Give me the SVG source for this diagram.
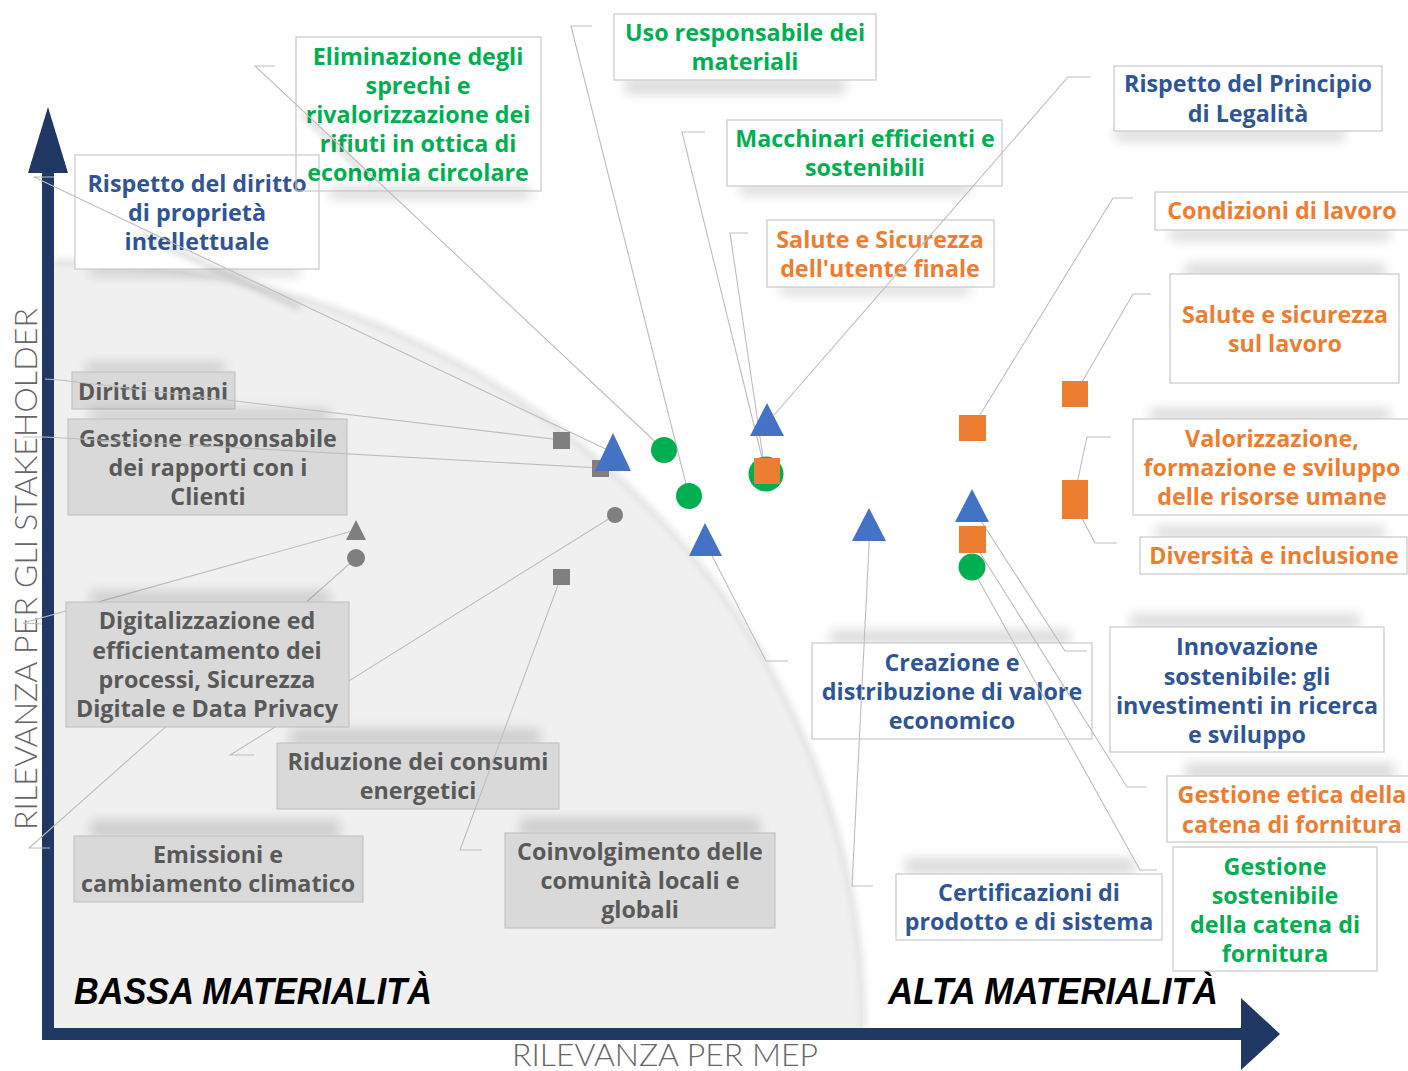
<svg xmlns="http://www.w3.org/2000/svg" width="1408" height="1071" viewBox="0 0 1408 1071">
<defs>
<filter id="blur" x="-30%" y="-150%" width="160%" height="400%"><feGaussianBlur stdDeviation="6"/></filter>
<filter id="blur2" x="-10%" y="-10%" width="120%" height="120%"><feGaussianBlur stdDeviation="3"/></filter>
<style>
.bx{fill:#ffffff;stroke:#c9c9c9;stroke-width:1.2}
.bn{fill:none;stroke:#c9c9c9;stroke-width:1.2}
.gx{fill:#d9d9d9;stroke:#c4c4c4;stroke-width:1.2}
.sh{fill:#000;opacity:0.14;filter:url(#blur)}
.t{font-family:"Open Sans",Lato,"Liberation Sans",sans-serif;font-weight:700;font-size:23.3px;text-anchor:middle}
.g{fill:#00B050}.b{fill:#2F5597}.o{fill:#ED7D31}.k{fill:#595959}
.ln{fill:none;stroke:#bdbdbd;stroke-width:1.1}
.lsh{fill:none;stroke:#000;stroke-opacity:0.16;stroke-width:5;filter:url(#blur2)}
.ax{fill:#203864}
.big{font-family:"Liberation Sans",Arial,sans-serif;font-weight:700;font-style:italic;font-size:37px;fill:#000}
.lab{font-family:Lato,"Open Sans","Liberation Sans",sans-serif;font-weight:300;font-size:31px;fill:#666666}
.mb{fill:#4472C4}.mg{fill:#00B050}.mo{fill:#ED7D31}.mk{fill:#7f7f7f}
</style>
</defs>
<rect width="1408" height="1071" fill="#ffffff"/>
<g id="low-area">
<path d="M54,262 A809,763 0 0 1 863,1028 L54,1028 Z" fill="#f0f0f0"/>
<path d="M54,262 A809,763 0 0 1 863,1028" fill="none" stroke="#e2e2e2" stroke-width="6" filter="url(#blur2)"/>
</g>
<g id="axes">
<rect class="ax" x="42" y="170" width="12" height="870"/>
<polygon class="ax" points="48,107 68,173 28,173"/>
<rect class="ax" x="42" y="1028" width="1201" height="12"/>
<polygon class="ax" points="1241,998 1280,1034 1241,1070"/>
<text class="lab" transform="translate(37,830) rotate(-90)" textLength="522" lengthAdjust="spacingAndGlyphs">RILEVANZA PER GLI STAKEHOLDER</text>
<text class="lab" x="512" y="1066" textLength="306" lengthAdjust="spacingAndGlyphs">RILEVANZA PER MEP</text>
<text class="big" x="74" y="1004" textLength="358" lengthAdjust="spacingAndGlyphs">BASSA MATERIALITÀ</text>
<text class="big" x="888" y="1004" textLength="330" lengthAdjust="spacingAndGlyphs">ALTA MATERIALITÀ</text>
</g>
<g id="n-diritto">
<rect class="sh" x="90" y="266" width="210" height="10"/>
<rect class="bx" x="75" y="155" width="244" height="114"/>
<text class="t b"><tspan x="197" y="192">Rispetto del diritto</tspan><tspan x="197" y="221">di proprietà</tspan><tspan x="197" y="250">intellettuale</tspan></text>
</g>
<g id="n-eliminazione">
<rect class="sh" x="330" y="187" width="200" height="12"/>
<rect class="bn" x="296" y="37" width="245" height="154"/>
<text class="t g"><tspan x="418" y="65">Eliminazione degli</tspan><tspan x="418" y="94">sprechi e</tspan><tspan x="418" y="123">rivalorizzazione dei</tspan><tspan x="418" y="152">rifiuti in ottica di</tspan><tspan x="418" y="181">economia circolare</tspan></text>
</g>
<g id="n-uso">
<rect class="sh" x="625" y="78" width="220" height="16"/>
<rect class="bx" x="614" y="14" width="262" height="66"/>
<text class="t g"><tspan x="745" y="41">Uso responsabile dei</tspan><tspan x="745" y="70">materiali</tspan></text>
</g>
<g id="n-macchinari">
<rect class="sh" x="740" y="183" width="230" height="12"/>
<rect class="bx" x="727" y="120" width="275" height="66"/>
<text class="t g"><tspan x="865" y="147">Macchinari efficienti e</tspan><tspan x="865" y="176">sostenibili</tspan></text>
</g>
<g id="n-sostenibile">
<rect class="bx" x="1173" y="847" width="204" height="124"/>
<text class="t g"><tspan x="1275" y="875">Gestione</tspan><tspan x="1275" y="904">sostenibile</tspan><tspan x="1275" y="933">della catena di</tspan><tspan x="1275" y="962">fornitura</tspan></text>
</g>
<g id="n-legalita">
<rect class="sh" x="1115" y="129" width="230" height="12"/>
<rect class="bx" x="1114" y="66" width="268" height="65"/>
<text class="t b"><tspan x="1248" y="92">Rispetto del Principio</tspan><tspan x="1248" y="122">di Legalità</tspan></text>
</g>
<g id="n-creazione">
<rect class="sh" x="830" y="630" width="240" height="14"/>
<rect class="bx" x="812" y="643" width="280" height="96"/>
<text class="t b"><tspan x="952" y="671">Creazione e</tspan><tspan x="952" y="700">distribuzione di valore</tspan><tspan x="952" y="729">economico</tspan></text>
</g>
<g id="n-innovazione">
<rect class="sh" x="1130" y="614" width="230" height="14"/>
<rect class="bx" x="1110" y="627" width="274" height="125"/>
<text class="t b"><tspan x="1247" y="655">Innovazione</tspan><tspan x="1247" y="685">sostenibile: gli</tspan><tspan x="1247" y="714">investimenti in ricerca</tspan><tspan x="1247" y="743">e sviluppo</tspan></text>
</g>
<g id="n-certificazioni">
<rect class="sh" x="905" y="858" width="230" height="16"/>
<rect class="bx" x="896" y="874" width="266" height="66"/>
<text class="t b"><tspan x="1029" y="901">Certificazioni di</tspan><tspan x="1029" y="930">prodotto e di sistema</tspan></text>
</g>
<g id="n-salute-utente">
<rect class="sh" x="780" y="285" width="190" height="10"/>
<rect class="bx" x="767" y="220" width="227" height="67"/>
<text class="t o"><tspan x="880" y="248">Salute e Sicurezza</tspan><tspan x="880" y="277">dell'utente finale</tspan></text>
</g>
<g id="n-condizioni">
<rect class="sh" x="1170" y="229" width="220" height="12"/>
<rect class="bx" x="1155" y="192" width="260" height="38"/>
<text class="t o"><tspan x="1282" y="219">Condizioni di lavoro</tspan></text>
</g>
<g id="n-salute-lavoro">
<rect class="sh" x="1185" y="263" width="200" height="14"/>
<rect class="bx" x="1170" y="274" width="229" height="109"/>
<text class="t o"><tspan x="1285" y="323">Salute e sicurezza</tspan><tspan x="1285" y="352">sul lavoro</tspan></text>
</g>
<g id="n-valorizzazione">
<rect class="sh" x="1150" y="408" width="240" height="14"/>
<rect class="bx" x="1133" y="419" width="280" height="96"/>
<text class="t o"><tspan x="1272" y="447">Valorizzazione,</tspan><tspan x="1272" y="476">formazione e sviluppo</tspan><tspan x="1272" y="505">delle risorse umane</tspan></text>
</g>
<g id="n-diversita">
<rect class="sh" x="1155" y="526" width="230" height="12"/>
<rect class="bx" x="1140" y="537" width="267" height="37"/>
<text class="t o"><tspan x="1274" y="564">Diversità e inclusione</tspan></text>
</g>
<g id="n-etica">
<rect class="sh" x="1185" y="763" width="210" height="16"/>
<rect class="bx" x="1167" y="776" width="250" height="66"/>
<text class="t o"><tspan x="1292" y="803">Gestione etica della</tspan><tspan x="1292" y="833">catena di fornitura</tspan></text>
</g>
<g id="n-diritti-umani">
<rect class="sh" x="85" y="362" width="140" height="12"/>
<rect class="gx" x="72" y="372" width="163" height="37"/>
<text class="t k"><tspan x="153" y="400">Diritti umani</tspan></text>
</g>
<g id="n-clienti">
<rect class="sh" x="90" y="409" width="240" height="12"/>
<rect class="gx" x="68" y="419" width="279" height="96"/>
<text class="t k"><tspan x="208" y="447">Gestione responsabile</tspan><tspan x="208" y="476">dei rapporti con i</tspan><tspan x="208" y="505">Clienti</tspan></text>
</g>
<g id="n-riduzione">
<rect class="sh" x="290" y="729" width="250" height="16"/>
<rect class="gx" x="277" y="743" width="282" height="66"/>
<text class="t k"><tspan x="418" y="770">Riduzione dei consumi</tspan><tspan x="418" y="799">energetici</tspan></text>
</g>
<g id="n-emissioni">
<rect class="sh" x="90" y="820" width="250" height="18"/>
<rect class="gx" x="74" y="836" width="289" height="66"/>
<text class="t k"><tspan x="218" y="863">Emissioni e</tspan><tspan x="218" y="892">cambiamento climatico</tspan></text>
</g>
<g id="n-coinvolgimento">
<rect class="sh" x="520" y="818" width="240" height="18"/>
<rect class="gx" x="505" y="833" width="270" height="95"/>
<text class="t k"><tspan x="640" y="860">Coinvolgimento delle</tspan><tspan x="640" y="889">comunità locali e</tspan><tspan x="640" y="918">globali</tspan></text>
</g>
<g id="connectors">
<line class="lsh" x1="140" y1="234" x2="300" y2="308"/>
<line class="lsh" x1="302" y1="114" x2="372" y2="180"/>
<polyline class="ln" points="275,66 255,66 664,450"/>
<polyline class="ln" points="54,177 34,177 612,452"/>
<polyline class="ln" points="592,26 571,26 689,496"/>
<polyline class="ln" points="705,132 682,132 766,474"/>
<polyline class="ln" points="748,233 730,233 765,471"/>
<polyline class="ln" points="1091,77 1068,77 768,422"/>
<polyline class="ln" points="1133,198 1113,198 972,428"/>
<polyline class="ln" points="1151,294 1133,294 1075,394"/>
<polyline class="ln" points="1111,437 1087,437 1075,493"/>
<polyline class="ln" points="1117,543 1095,543 1075,505"/>
<polyline class="ln" points="972,507 1065,651 1087,651"/>
<polyline class="ln" points="972,540 1127,787 1147,787"/>
<polyline class="ln" points="972,568 1140,870 1157,870"/>
<polyline class="ln" points="870,526 852,886 873,886"/>
<polyline class="ln" points="705,542 766,661 788,661"/>
<polyline class="ln" points="45,379 60,380 561,440"/>
<polyline class="ln" points="23,437 45,437 600,468"/>
<polyline class="ln" points="356,530 23,623 42,624"/>
<polyline class="ln" points="356,558 29,848 50,848"/>
<polyline class="ln" points="615,515 230,755 254,755"/>
<polyline class="ln" points="561,577 460,850 482,850"/>
</g>
<g id="n-digitalizzazione">
<rect class="sh" x="90" y="591" width="240" height="14"/>
<rect class="gx" x="66" y="602" width="283" height="125"/>
<text class="t k"><tspan x="207" y="629">Digitalizzazione ed</tspan><tspan x="207" y="659">efficientamento dei</tspan><tspan x="207" y="688">processi, Sicurezza</tspan><tspan x="207" y="717">Digitale e Data Privacy</tspan></text>
</g>
<g id="markers">
<rect class="mk" x="553" y="432" width="17" height="17"/>
<rect class="mk" x="592" y="460" width="17" height="17"/>
<rect class="mk" x="553" y="569" width="17" height="16"/>
<circle class="mk" cx="615" cy="515" r="8"/>
<polygon class="mk" points="356,520 366,540 346,540"/>
<circle class="mk" cx="356" cy="558" r="9"/>
<polygon class="mb" points="613,433 631,471 595,471"/>
<circle class="mg" cx="664" cy="450" r="13"/>
<circle class="mg" cx="689" cy="496" r="13"/>
<polygon class="mb" points="705,523 722,556 689,556"/>
<polygon class="mb" points="767,403 784,436 750,436"/>
<circle class="mg" cx="766" cy="474" r="17.5"/>
<rect class="mo" x="754" y="458" width="26" height="26"/>
<polygon class="mb" points="869,508 886,541 852,541"/>
<rect class="mo" x="959" y="415" width="27" height="26"/>
<polygon class="mb" points="972,489 989,522 955,522"/>
<rect class="mo" x="959" y="526" width="27" height="27"/>
<circle class="mg" cx="972" cy="567" r="13.5"/>
<rect class="mo" x="1062" y="381" width="26" height="26"/>
<rect class="mo" x="1062" y="480" width="26" height="26"/>
<rect class="mo" x="1062" y="493" width="26" height="26"/>
</g>
</svg>
